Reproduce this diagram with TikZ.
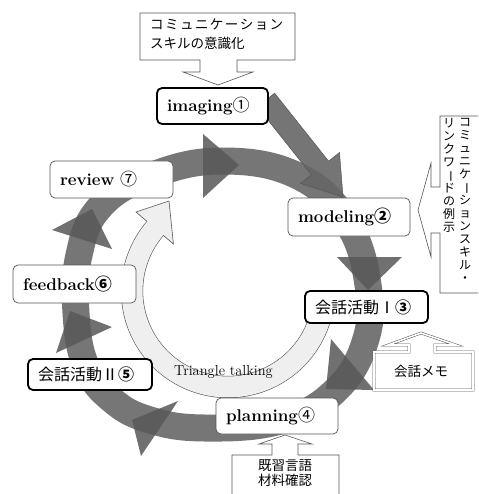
\documentclass[tikz,border=0pt]{standalone}
\usepackage{fontspec}
\newfontfamily\cjk{Noto Sans CJK JP}
\definecolor{ringc}{HTML}{767676}
\definecolor{headc}{HTML}{585858}
\definecolor{arrc}{HTML}{666666}
\definecolor{lightc}{HTML}{EFEFEF}
\definecolor{edgec}{HTML}{555555}
\newcommand\tatebar{\rotatebox[origin=c]{-90}{ー}}
\begin{document}
\begin{tikzpicture}[x=1pt,y=-1pt,
  box/.style={draw=edgec, line width=0.7pt, rounded corners=5pt, fill=white,
    inner xsep=10pt, inner ysep=0pt, align=left,
    font=\fontsize{17}{20}\selectfont\bfseries},
  boxthick/.style={box, draw=black, line width=1.8pt},
  jpbox/.style={font=\cjk\fontsize{16}{18}\selectfont},
  callout/.style={draw=edgec, line width=0.6pt, fill=white},
  ringhead/.style={fill=headc, fill opacity=0.85},
  jp/.style={font=\cjk\fontsize{13.5}{15}\selectfont, inner sep=0pt},
  vcol/.style={font=\cjk\fontsize{12}{13}\selectfont, align=center, inner sep=0pt, anchor=north}
]
\useasboundingbox (0,0) rectangle (478,494);
\fill[white] (0,0) rectangle (478,494);
\clip (0,0) rectangle (478,494);

% dark circular arrow ring
\draw[ringc, line width=27pt] plot[smooth cycle, tension=0.7] coordinates {
  (222,161) (298,176) (347,222) (368,285) (365,342) (334,392) (280,421)
  (205,428) (150,420) (112,400) (86,366) (76,313) (79,255) (100,207) (150,176)};
\fill[ringhead] (203,134) -- (203,198) -- (239,165) -- cycle;
\fill[ringhead] (337,257) -- (402,257) -- (368,290) -- cycle;
\fill[ringhead] (331,339) -- (374,390) -- (326,389) -- cycle;
\fill[ringhead] (178,401) -- (141,456) -- (132,420) -- cycle;
\fill[ringhead] (112,327) -- (56,353) -- (70,311) -- cycle;
\fill[ringhead] (112,249) -- (52,230) -- (92,209) -- cycle;

% light inner ring (Triangle talking)
\draw[edgec, line width=22.2pt] plot[domain=15:220.7, samples=90, variable=\t]
  ({228+96*cos(\t)},{291+96*sin(\t)});
\filldraw[fill=lightc, draw=edgec, line width=0.6pt]
  (136,212) -- (173.4,244) -- (169,201) -- cycle;
\draw[lightc, line width=21pt] plot[domain=15:222.5, samples=90, variable=\t]
  ({228+96*cos(\t)},{291+96*sin(\t)});
\node[font=\fontsize{14.5}{17}\selectfont, inner sep=0pt] (tt) at (223.5,372) {Triangle talking};

% straight block arrow imaging -> modeling
\filldraw[fill=arrc, fill opacity=0.9, draw=edgec, line width=0.5pt]
  (274.6,93.2) -- (328.6,161.2) -- (339.5,152.5) -- (343,197)
  -- (300.5,183.5) -- (311.4,174.8) -- (257.4,106.8) -- cycle;

% nodes
\node[boxthick, text width=91pt, minimum height=36pt] (img) at (212.5,106) {imaging{\cjk\mdseries ①}};
\node[box, text width=102pt, minimum height=38pt] (mod) at (349,217) {modeling{\cjk ②}};
\node[boxthick, jpbox, text width=103pt, minimum height=32pt] (k1) at (366.5,307) {会話活動Ⅰ{\bfseries ③}};
\node[box, text width=102pt, minimum height=36pt] (plan) at (277,416) {planning{\cjk\mdseries ④}};
\node[boxthick, jpbox, text width=104pt, minimum height=31pt] (k2) at (90,374.5) {会話活動Ⅱ{\bfseries ⑤}};
\node[box, text width=103pt, minimum height=38pt] (fb) at (74.5,284) {feedback{\cjk ⑥}};
\node[box, text width=103pt, minimum height=37pt] (rev) at (111.5,179.5) {review\ {\cjk\mdseries ⑦}};

% top callout
\draw[callout] (140,13) -- (295,13) -- (295,60) -- (237,60) -- (237,72) -- (253,72)
  -- (218,85) -- (183,72) -- (200,72) -- (200,60) -- (140,60) -- cycle;
\node[jp, anchor=west] (c1) at (150,25) {\makebox[133pt][s]{コ\hfil ミ\hfil ュ\hfil ニ\hfil ケ\hfil ー\hfil シ\hfil ョ\hfil ン}};
\node[jp, anchor=west] (c2) at (150,43) {スキルの意識化};

% right callout (vertical text)
\draw[callout] (482,116) -- (440,116) -- (440,187) -- (431,187) -- (431,163) -- (418,210)
  -- (431,257) -- (431,233) -- (440,233) -- (440,293) -- (482,293);
\node[vcol] (v1) at (465,118) {コ\\ミ\\ュ\\ニ\\ケ\\\tatebar\\シ\\ョ\\ン\\ス\\キ\\ル\\・};
\node[vcol] (v2) at (449,118) {リ\\ン\\ク\\ワ\\\tatebar\\ド\\の\\例\\示};

% memo callout (double line)
\draw[draw=edgec, line width=0.5pt, double=white, double distance=1.6pt, fill=white]
  (374,390) -- (374,352) -- (409,352) -- (409,345) -- (388,345) -- (421,333)
  -- (456,345) -- (435,345) -- (435,352) -- (473,352) -- (473,390) -- cycle;
\node[jp] (memo) at (421,371) {会話メモ};

% bottom callout
\draw[callout] (232,498) -- (232,455) -- (272,455) -- (272,444) -- (259,444) -- (285,435)
  -- (312,444) -- (298,444) -- (298,455) -- (339,455) -- (339,498);
\node[jp, align=center] (mat) at (285,473.5) {既習言語\\材料確認};
\end{tikzpicture}
\end{document}
